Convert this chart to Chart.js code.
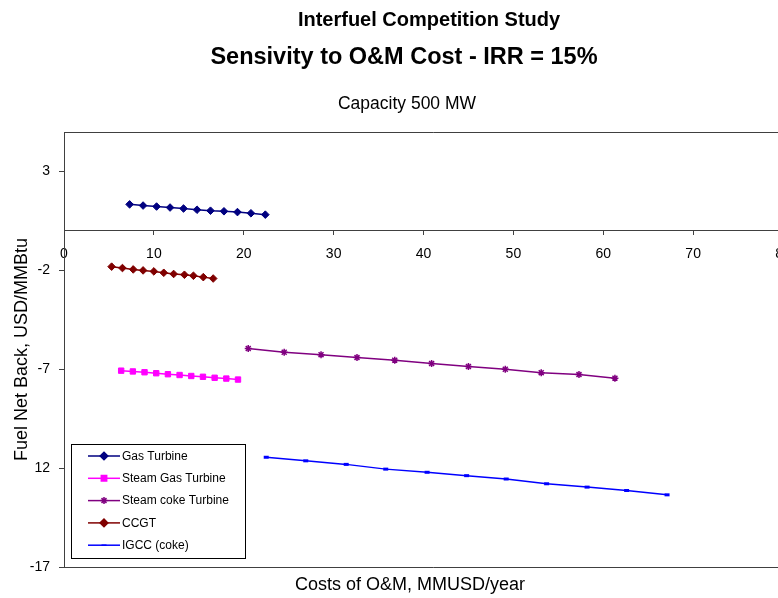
<!DOCTYPE html>
<html>
<head>
<meta charset="utf-8">
<script src="https://cdn.jsdelivr.net/npm/chart.js@4.4.1/dist/chart.umd.min.js"></script>
<style>
  html, body { margin: 0; padding: 0; background: #ffffff; overflow: hidden; }
  #wrap { width: 810px; height: 598px; }
</style>
</head>
<body>
<div id="wrap"><canvas id="c" width="810" height="598"></canvas></div>
<script>
// ---- Data ----
const seriesNames = ['Gas Turbine', 'Steam Gas Turbine', 'Steam coke Turbine', 'CCGT', 'IGCC (coke)'];

const gasTurbineX = [7.3, 8.8, 10.3, 11.8, 13.3, 14.8, 16.3, 17.8, 19.3, 20.8, 22.4];
const gasTurbineY = [1.34, 1.28, 1.23, 1.18, 1.13, 1.07, 1.02, 0.99, 0.95, 0.89, 0.82];

const steamGasX = [6.36, 7.66, 8.96, 10.26, 11.56, 12.86, 14.16, 15.46, 16.76, 18.06, 19.36];
const steamGasY = [-7.07, -7.11, -7.15, -7.20, -7.25, -7.29, -7.34, -7.38, -7.43, -7.47, -7.52];

const steamCokeX = [20.5, 24.5, 28.6, 32.6, 36.8, 40.9, 45.0, 49.1, 53.1, 57.3, 61.3];
const steamCokeY = [-5.95, -6.14, -6.26, -6.41, -6.54, -6.71, -6.86, -7.00, -7.17, -7.27, -7.45];

const ccgtX = [5.3, 6.5, 7.7, 8.8, 10.0, 11.1, 12.2, 13.4, 14.4, 15.5, 16.6];
const ccgtY = [-1.81, -1.88, -1.95, -2.00, -2.05, -2.12, -2.18, -2.22, -2.27, -2.34, -2.41];

const igccX = [22.5, 26.9, 31.4, 35.8, 40.4, 44.8, 49.2, 53.7, 58.2, 62.6, 67.1];
const igccY = [-11.45, -11.63, -11.81, -12.05, -12.21, -12.38, -12.55, -12.79, -12.96, -13.13, -13.35];

const yTickValues = [-17, -12, -7, -2, 3];
const yTickLabels = ['-17', '12', '-7', '-2', '3'];
const xTickValues = [0, 10, 20, 30, 40, 50, 60, 70, 80];

const titleMain = 'Interfuel Competition Study';
const titleSub = 'Sensivity to O&M Cost - IRR = 15%';
const titleCap = 'Capacity 500 MW';
const xTitle = 'Costs of O&M, MMUSD/year';
const yTitle = 'Fuel Net Back, USD/MMBtu';

// ---- Build datasets ----
function pts(xs, ys) { return xs.map((x, i) => ({ x: x, y: ys[i] })); }

const FONT = '"Liberation Sans", Arial, sans-serif';

const datasets = [
  { label: seriesNames[0], data: pts(gasTurbineX, gasTurbineY), borderColor: '#000080', backgroundColor: '#000080',
    pointStyle: 'rectRot', pointRadius: 3.8, pointBorderWidth: 1 },
  { label: seriesNames[1], data: pts(steamGasX, steamGasY), borderColor: '#FF00FF', backgroundColor: '#FF00FF',
    pointStyle: 'rect', pointRadius: 3.8, pointBorderWidth: 1 },
  { label: seriesNames[2], data: pts(steamCokeX, steamCokeY), borderColor: '#800080', backgroundColor: '#800080',
    pointStyle: 'star', pointRadius: 3.5, pointBorderWidth: 1.5 },
  { label: seriesNames[3], data: pts(ccgtX, ccgtY), borderColor: '#800000', backgroundColor: '#800000',
    pointStyle: 'rectRot', pointRadius: 3.8, pointBorderWidth: 1 },
  { label: seriesNames[4], data: pts(igccX, igccY), borderColor: '#0000FF', backgroundColor: '#0000FF',
    pointStyle: 'line', pointRadius: 2.5, pointBorderWidth: 3 }
].map(d => Object.assign({ showLine: true, borderWidth: 1.5, fill: false, tension: 0 }, d));

// ---- Plugins: titles, frame, legend ----
const decorPlugin = {
  id: 'decor',
  beforeDraw(chart) {
    const ctx = chart.ctx;
    ctx.save();
    ctx.fillStyle = '#ffffff';
    ctx.fillRect(0, 0, chart.width, chart.height);
    ctx.restore();
  },
  afterDraw(chart) {
    const ctx = chart.ctx;
    const a = chart.chartArea;
    ctx.save();
    // plot frame
    ctx.strokeStyle = '#404040';
    ctx.lineWidth = 1;
    ctx.beginPath();
    ctx.moveTo(a.right + 20, Math.round(a.top) + 0.5);
    ctx.lineTo(Math.round(a.left) + 0.5, Math.round(a.top) + 0.5);
    ctx.lineTo(Math.round(a.left) + 0.5, Math.round(a.bottom) + 0.5);
    ctx.lineTo(a.right + 20, Math.round(a.bottom) + 0.5);
    ctx.stroke();

    // titles
    ctx.fillStyle = '#000000';
    ctx.textAlign = 'center';
    ctx.textBaseline = 'middle';
    ctx.font = 'bold 20px ' + FONT;
    ctx.fillText(titleMain, 429, 20);
    ctx.font = 'bold 23.5px ' + FONT;
    ctx.fillText(titleSub, 404, 58);
    ctx.font = '17.5px ' + FONT;
    ctx.fillText(titleCap, 407, 104);

    // axis titles
    ctx.font = '18px ' + FONT;
    ctx.fillText(xTitle, 410, 585);
    ctx.save();
    ctx.translate(22, (a.top + a.bottom) / 2);
    ctx.rotate(-Math.PI / 2);
    ctx.fillText(yTitle, 0, 0);
    ctx.restore();

    // legend box
    const lx = 71, ly = 444, lw = 174, lh = 114;
    ctx.fillStyle = '#ffffff';
    ctx.fillRect(lx, ly, lw, lh);
    ctx.strokeStyle = '#000000';
    ctx.strokeRect(lx + 0.5, ly + 0.5, lw, lh);
    ctx.font = '12px ' + FONT;
    ctx.textAlign = 'left';
    ctx.textBaseline = 'middle';
    chart.data.datasets.forEach((ds, i) => {
      const y = 456 + i * 22.3;
      ctx.strokeStyle = ds.borderColor;
      ctx.lineWidth = 1.5;
      ctx.beginPath();
      ctx.moveTo(88, y);
      ctx.lineTo(120, y);
      ctx.stroke();
      ctx.fillStyle = ds.backgroundColor;
      ctx.strokeStyle = ds.borderColor;
      if (Chart.helpers && Chart.helpers.drawPoint) {
        Chart.helpers.drawPoint(ctx, { pointStyle: ds.pointStyle, radius: ds.pointRadius, borderWidth: ds.pointBorderWidth, rotation: 0 }, 104, y);
      }
      ctx.fillStyle = '#000000';
      ctx.fillText(ds.label, 122, y + 0.5);
    });
    ctx.restore();
  }
};

new Chart(document.getElementById('c'), {
  type: 'scatter',
  data: { datasets: datasets },
  options: {
    responsive: false,
    devicePixelRatio: 1,
    animation: false,
    layout: { padding: { left: 0, top: 132, right: 27, bottom: 31 } },
    plugins: {
      legend: { display: false },
      title: { display: false },
      tooltip: { enabled: false }
    },
    scales: {
      x: {
        type: 'linear',
        position: { y: 0 },
        min: 0, max: 80,
        afterBuildTicks(scale) { scale.ticks = xTickValues.map(v => ({ value: v })); },
        grid: { drawOnChartArea: false, drawTicks: true, tickLength: 4, color: '#404040' },
        border: { display: true, color: '#404040', width: 1 },
        ticks: { color: '#000000', font: { family: FONT, size: 14 }, padding: 11, maxRotation: 0, autoSkip: false }
      },
      y: {
        type: 'linear',
        position: 'left',
        min: -17, max: 5,
        afterBuildTicks(scale) { scale.ticks = yTickValues.map(v => ({ value: v })); },
        afterFit(scale) { scale.width = 64; },
        grid: { drawOnChartArea: false, drawTicks: true, tickLength: 5, color: '#404040' },
        border: { display: true, color: '#404040', width: 1 },
        ticks: {
          color: '#000000', font: { family: FONT, size: 14 }, padding: 9, autoSkip: false,
          callback: (v) => { const i = yTickValues.indexOf(v); return i >= 0 ? yTickLabels[i] : ''; }
        }
      }
    }
  },
  plugins: [decorPlugin]
});
</script>
</body>
</html>
